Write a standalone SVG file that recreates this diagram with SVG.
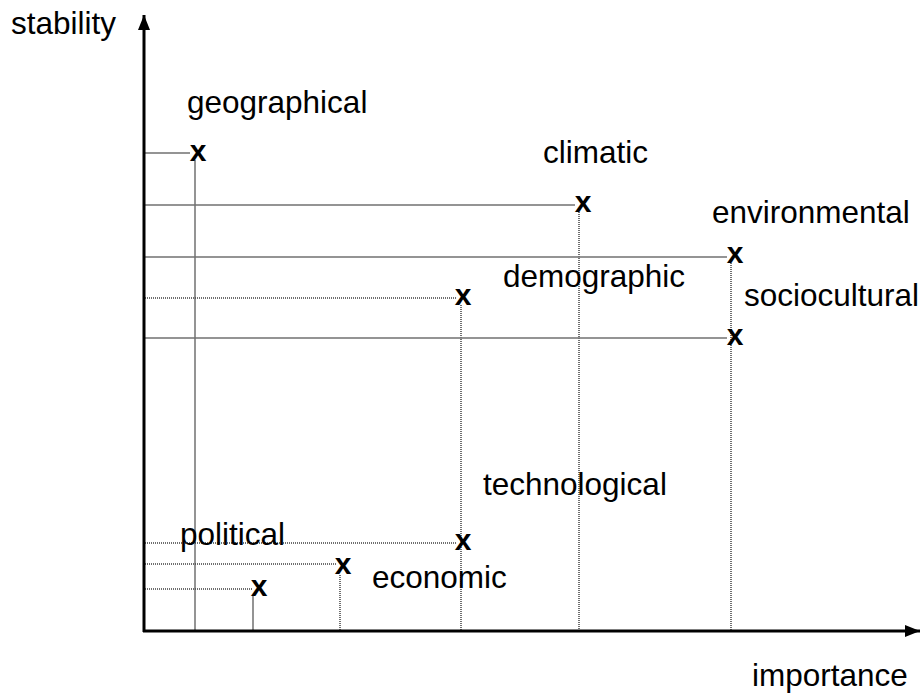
<svg xmlns="http://www.w3.org/2000/svg" width="922" height="695" viewBox="0 0 922 695">
<style>
.lbl{font-family:"Liberation Sans",Arial,sans-serif;font-size:31.5px;fill:#000}
.mk{font-family:"Liberation Sans",Arial,sans-serif;font-size:30px;font-weight:bold;fill:#000;text-anchor:middle}
.sol{stroke:#707070;stroke-width:1.5;fill:none}
.dot{stroke:#404040;stroke-width:1.5;stroke-dasharray:1 1;fill:none}
.ax{stroke:#000;stroke-width:3;fill:none}
</style>
<defs>
<marker id="ah" viewBox="0 0 10 8" refX="10" refY="4" markerWidth="5" markerHeight="4" orient="auto" markerUnits="strokeWidth">
<path d="M0,0 L10,4 L0,8 Z" fill="#000"/>
</marker>
</defs>
<rect width="922" height="695" fill="#fff"/>
<g id="connectors">
<line class="sol" x1="145" y1="153" x2="190" y2="153"/>
<line class="sol" x1="195" y1="160" x2="195" y2="630"/>
<line class="sol" x1="145" y1="205" x2="575" y2="205"/>
<line class="dot" x1="579" y1="212" x2="579" y2="630"/>
<line class="sol" x1="145" y1="257" x2="727" y2="257"/>
<line class="dot" x1="731" y1="263" x2="731" y2="630"/>
<line class="dot" x1="145" y1="298" x2="456" y2="298"/>
<line class="dot" x1="461" y1="305" x2="461" y2="630"/>
<line class="sol" x1="145" y1="338" x2="727" y2="338"/>
<line class="dot" x1="145" y1="543" x2="456" y2="543"/>
<line class="dot" x1="145" y1="564" x2="336" y2="564"/>
<line class="dot" x1="340" y1="575" x2="340" y2="630"/>
<line class="dot" x1="145" y1="589" x2="252" y2="589"/>
<line class="sol" x1="253" y1="596" x2="253" y2="630"/>
</g>
<g id="axes">
<line class="ax" x1="144" y1="632" x2="144" y2="15" marker-end="url(#ah)"/>
<line class="ax" x1="143" y1="631" x2="920" y2="631" marker-end="url(#ah)"/>
<text class="lbl" x="11" y="34">stability</text>
<text class="lbl" x="752" y="686">importance</text>
</g>
<g id="geographical"><text class="mk" x="198" y="161">x</text><text class="lbl" x="187" y="113">geographical</text></g>
<g id="climatic"><text class="mk" x="583" y="212">x</text><text class="lbl" x="543" y="163">climatic</text></g>
<g id="environmental"><text class="mk" x="735" y="263">x</text><text class="lbl" x="712" y="223">environmental</text></g>
<g id="demographic"><text class="mk" x="463" y="305">x</text><text class="lbl" x="503" y="287">demographic</text></g>
<g id="sociocultural"><text class="mk" x="735" y="345">x</text><text class="lbl" x="744" y="306">sociocultural</text></g>
<g id="technological"><text class="mk" x="463" y="550">x</text><text class="lbl" x="483" y="495">technological</text></g>
<g id="economic"><text class="mk" x="343" y="574">x</text><text class="lbl" x="372" y="588">economic</text></g>
<g id="political"><text class="mk" x="259" y="596">x</text><text class="lbl" x="180" y="545">political</text></g>
</svg>
